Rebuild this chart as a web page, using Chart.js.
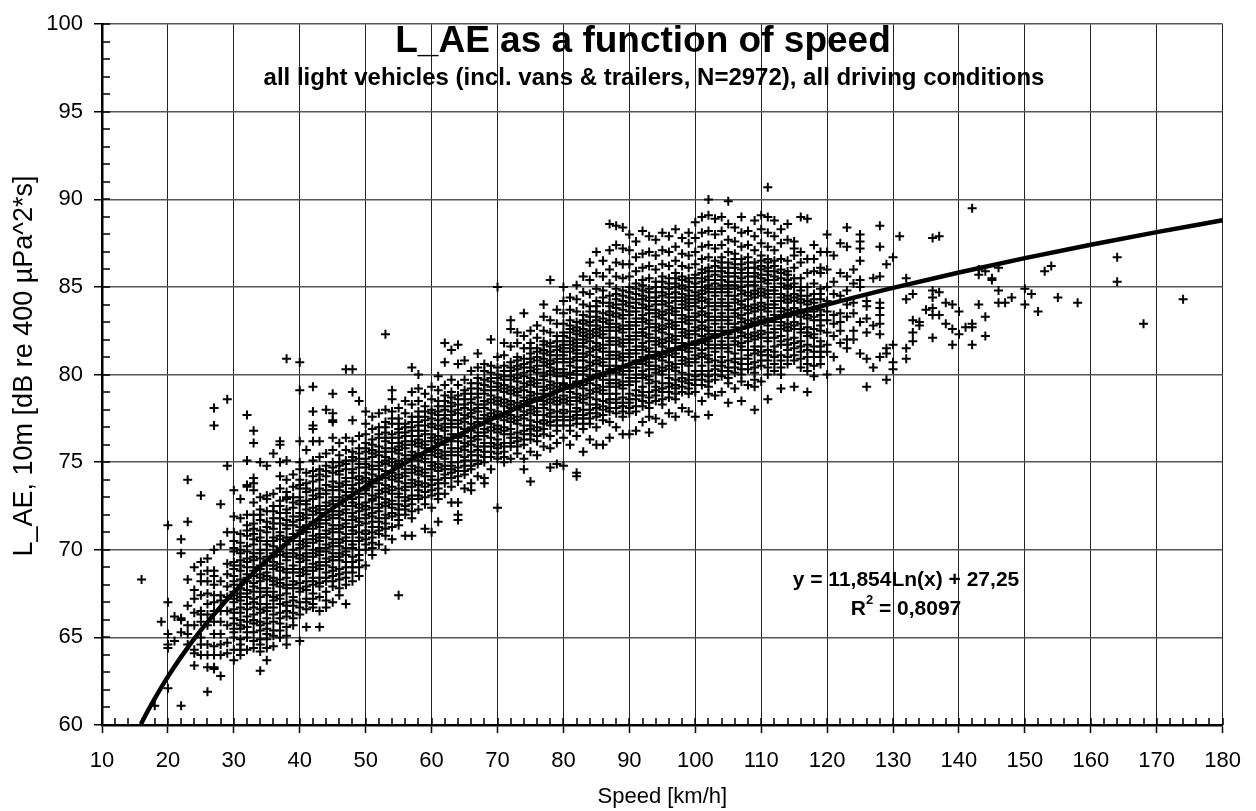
<!DOCTYPE html>
<html><head><meta charset="utf-8">
<script src="https://cdn.jsdelivr.net/npm/chart.js@4/dist/chart.umd.min.js"></script>
<style>html,body{margin:0;padding:0;background:#fff;}#wrap{width:1256px;height:811px;}</style>
</head><body><div id="wrap"><canvas id="c" width="1256" height="811"></canvas></div>
<script>
// ---- data: each row = [speed km/h, L_AE values at that speed...] ----
const band10s = [
 [16, 68.3],[18, 61.1],[19, 65.9],
 [20, 62.1, 64.4, 64.6, 65.2, 67.0, 71.4],
 [21, 64.8, 66.2],
 [22, 61.1, 65.3, 66.0, 66.1, 69.8, 70.6],
 [23, 64.6, 65.2, 65.7, 66.8, 68.3, 71.6, 74.0],
 [24, 63.4, 64.1, 64.3, 65.7, 66.4, 67.2, 67.7, 69.0],
 [25, 64.0, 64.6, 65.0, 65.9, 66.3, 66.5, 67.4, 68.2, 68.6, 69.3, 73.1],
 [26, 61.9, 63.3, 64.0, 64.6, 65.7, 66.3, 66.9, 67.5, 68.2, 68.8, 69.5],
 [27, 63.2, 63.3, 64.0, 64.5, 65.2, 65.9, 66.5, 67.0, 67.4, 68.0, 68.5, 68.8, 70.0, 77.1, 78.1],
 [28, 62.8, 64.0, 64.6, 65.2, 65.9, 66.5, 67.1, 67.4, 68.2, 70.3, 72.6],
 [29, 64.1, 64.7, 65.7, 66.5, 67.3, 67.9, 68.6, 69.2, 71.0, 74.8, 78.6]
];
const band30s = [
 [30, 63.7, 64.3, 65.0, 65.3, 65.8, 66.1, 66.6, 67.0, 67.2, 67.6, 68.0, 68.5, 68.9, 69.3, 69.9, 70.5, 71.0, 71.9, 73.4],
 [31, 64.0, 64.3, 64.9, 65.5, 66.0, 66.7, 67.1, 67.5, 67.8, 68.3, 68.8, 69.4, 69.8, 70.4, 71.8, 72.9],
 [32, 64.3, 65.0, 65.6, 66.2, 66.9, 67.3, 67.7, 68.2, 68.6, 69.0, 69.5, 70.2, 70.8, 71.4, 72.0, 73.6, 73.7, 75.1, 77.7],
 [33, 64.8, 65.3, 65.8, 66.3, 66.7, 67.2, 67.6, 68.1, 68.5, 69.0, 69.4, 69.8, 70.3, 70.9, 71.5, 72.0, 72.7, 73.4, 73.8, 74.1, 76.1, 76.8],
 [34, 63.1, 64.2, 64.9, 65.4, 65.9, 66.4, 66.9, 67.3, 67.8, 68.2, 68.6, 69.1, 69.5, 70.0, 70.5, 71.1, 71.7, 72.3, 73.0, 75.0],
 [35, 63.7, 64.4, 64.9, 65.5, 66.1, 66.5, 66.9, 67.4, 67.8, 68.3, 68.7, 69.1, 69.6, 70.0, 70.5, 71.0, 71.6, 72.2, 72.9, 73.1, 74.8],
 [36, 64.5, 65.4, 65.9, 66.7, 67.1, 67.6, 68.0, 68.4, 68.9, 69.3, 69.8, 70.2, 70.7, 71.2, 71.8, 72.5, 73.2, 75.5],
 [37, 65.0, 65.8, 66.4, 66.9, 67.4, 67.9, 68.3, 68.8, 69.2, 69.7, 70.1, 70.6, 71.0, 71.5, 72.1, 72.8, 73.5, 74.2, 75.0, 76.0, 76.2],
 [38, 64.6, 65.1, 65.6, 66.5, 67.0, 67.5, 68.0, 68.4, 68.9, 69.4, 69.8, 70.3, 70.7, 71.2, 71.7, 72.3, 72.9, 73.3, 74.0, 75.1, 80.9],
 [39, 65.7, 66.1, 66.8, 67.3, 67.8, 68.2, 68.7, 69.1, 69.6, 70.0, 70.5, 70.9, 71.4, 71.9, 72.4, 73.0, 73.6, 74.3]
];
const band40s = [
 [40, 64.8, 66.3, 67.0, 67.6, 68.1, 68.5, 68.9, 69.3, 69.7, 70.1, 70.5, 70.9, 71.3, 71.7, 72.1, 72.6, 73.0, 73.5, 74.0, 74.6, 75.0, 76.2, 79.1, 80.7],
 [41, 65.6, 66.6, 67.2, 67.7, 68.2, 68.6, 69.0, 69.4, 69.8, 70.2, 70.6, 71.0, 71.4, 71.8, 72.3, 72.8, 73.3, 73.8, 74.4, 75.7],
 [42, 66.7, 66.9, 67.5, 68.0, 68.4, 68.8, 69.2, 69.6, 70.0, 70.4, 70.8, 71.2, 71.6, 72.0, 72.4, 72.9, 73.4, 73.9, 74.5, 75.1, 76.2, 76.9, 77.1, 77.9, 79.3],
 [43, 65.6, 67.3, 67.9, 68.4, 68.9, 69.3, 69.7, 70.1, 70.5, 70.9, 71.3, 71.7, 72.1, 72.5, 73.0, 73.5, 74.0, 74.6, 75.3, 76.2],
 [44, 66.7, 67.6, 68.2, 68.7, 69.1, 69.5, 69.9, 70.3, 70.7, 71.1, 71.5, 71.9, 72.3, 72.7, 73.2, 73.7, 74.2, 74.8, 75.5, 78.0],
 [45, 67.0, 67.9, 68.5, 69.0, 69.4, 69.8, 70.2, 70.6, 71.0, 71.4, 71.8, 72.2, 72.6, 73.0, 73.4, 73.9, 74.4, 75.0, 75.7, 76.4, 77.3, 77.4, 77.8, 78.9],
 [46, 67.4, 68.3, 68.9, 69.4, 69.8, 70.2, 70.6, 71.0, 71.4, 71.8, 72.2, 72.6, 73.0, 73.4, 73.8, 74.3, 74.8, 75.4, 76.1],
 [47, 66.9, 68.0, 68.7, 69.3, 69.7, 70.1, 70.5, 70.9, 71.3, 71.7, 72.1, 72.5, 72.9, 73.3, 73.7, 74.1, 74.6, 75.1, 75.7, 76.4, 80.3],
 [48, 68.2, 69.0, 69.6, 70.1, 70.5, 70.9, 71.3, 71.7, 72.1, 72.5, 72.9, 73.3, 73.7, 74.1, 74.6, 75.1, 75.6, 76.2, 77.4, 79.0, 80.3],
 [49, 68.5, 69.4, 70.0, 70.5, 71.0, 71.4, 71.8, 72.2, 72.6, 73.0, 73.4, 73.8, 74.2, 74.7, 75.2, 75.8, 76.5, 78.5]
];
const band50s = [
 [50, 69.1, 70.0, 70.6, 71.1, 71.5, 72.0, 72.3, 72.7, 73.2, 73.5, 73.9, 74.4, 74.7, 75.2, 75.6, 76.1, 76.6, 77.2, 77.9],
 [51, 69.7, 70.4, 71.0, 71.6, 71.9, 72.4, 72.8, 73.1, 73.6, 74.0, 74.3, 74.8, 75.3, 75.7, 76.3, 76.9, 77.6],
 [52, 70.3, 70.9, 71.3, 71.8, 72.2, 72.6, 73.0, 73.4, 73.8, 74.2, 74.6, 75.0, 75.4, 75.9, 76.4, 77.0, 77.8],
 [53, 70.0, 70.8, 71.5, 72.0, 72.5, 72.9, 73.3, 73.7, 74.1, 74.5, 74.9, 75.3, 75.8, 76.2, 76.7, 77.3, 78.0, 82.3],
 [54, 70.6, 71.3, 71.9, 72.4, 72.8, 73.2, 73.6, 74.0, 74.4, 74.8, 75.2, 75.6, 76.1, 76.6, 77.2, 77.9, 78.6, 79.1],
 [55, 67.4, 71.4, 72.0, 72.6, 73.0, 73.5, 73.9, 74.3, 74.7, 75.1, 75.5, 75.9, 76.4, 76.9, 77.5, 78.1],
 [56, 70.8, 72.0, 72.5, 73.0, 73.4, 73.8, 74.2, 74.6, 75.0, 75.4, 75.8, 76.2, 76.7, 77.2, 77.8, 78.5],
 [57, 70.8, 71.8, 72.6, 73.1, 73.6, 74.0, 74.4, 74.8, 75.2, 75.6, 76.0, 76.5, 77.0, 77.6, 78.3, 79.0, 80.4],
 [58, 72.3, 72.9, 73.4, 73.9, 74.3, 74.7, 75.1, 75.5, 75.9, 76.3, 76.8, 77.3, 77.9, 78.5, 79.2, 80.0],
 [59, 71.2, 72.6, 73.3, 73.8, 74.2, 74.6, 75.0, 75.4, 75.8, 76.2, 76.6, 77.1, 77.6, 78.2, 78.9]
];
const band60s = [
 [60, 71.0, 72.4, 73.1, 73.7, 74.2, 74.6, 75.0, 75.4, 75.8, 76.2, 76.6, 77.0, 77.5, 78.0, 78.6, 79.3],
 [61, 71.6, 72.9, 73.5, 74.0, 74.5, 74.9, 75.3, 75.7, 76.1, 76.5, 76.9, 77.4, 77.9, 78.5, 79.1, 79.9],
 [62, 73.2, 73.8, 74.3, 74.8, 75.2, 75.6, 76.0, 76.4, 76.8, 77.2, 77.7, 78.2, 78.8, 79.4, 80.7, 81.8],
 [63, 72.7, 73.6, 74.1, 74.6, 75.0, 75.4, 75.8, 76.2, 76.6, 77.0, 77.4, 77.9, 78.4, 79.0, 79.7, 81.4],
 [64, 71.7, 72.0, 72.7, 73.9, 74.5, 75.0, 75.4, 75.8, 76.2, 76.6, 77.0, 77.4, 77.8, 78.3, 78.8, 79.4, 80.6, 81.7],
 [65, 73.5, 74.3, 74.8, 75.3, 75.7, 76.1, 76.5, 76.9, 77.3, 77.7, 78.1, 78.6, 79.1, 79.7, 80.8],
 [66, 73.4, 73.8, 74.6, 75.1, 75.6, 76.0, 76.4, 76.8, 77.2, 77.6, 78.0, 78.4, 78.9, 79.5, 80.2],
 [67, 74.2, 74.9, 75.4, 75.9, 76.3, 76.7, 77.1, 77.5, 77.9, 78.3, 78.7, 79.2, 79.8, 80.4, 81.2],
 [68, 73.8, 74.1, 75.0, 75.6, 76.1, 76.5, 76.9, 77.3, 77.7, 78.1, 78.5, 78.9, 79.4, 80.2, 80.6],
 [69, 74.6, 75.3, 75.9, 76.4, 76.8, 77.2, 77.6, 78.0, 78.4, 78.8, 79.3, 79.8, 80.5, 82.0]
];
const band70s = [
 [70, 72.4, 75.2, 75.8, 76.3, 76.7, 77.1, 77.5, 77.9, 78.3, 78.7, 79.1, 79.5, 80.0, 80.4, 81.0, 85.0],
 [71, 75.0, 75.6, 76.1, 76.6, 77.0, 77.4, 77.8, 78.2, 78.6, 79.0, 79.4, 79.9, 80.5, 81.1, 81.8],
 [72, 75.2, 75.9, 76.4, 76.9, 77.3, 77.7, 78.1, 78.5, 78.9, 79.3, 79.7, 80.2, 80.7, 81.6, 82.6, 83.1],
 [73, 75.5, 76.2, 76.7, 77.2, 77.6, 78.0, 78.4, 78.8, 79.2, 79.6, 80.0, 80.5, 81.0, 81.8, 82.4],
 [74, 74.6, 75.2, 76.0, 76.6, 77.1, 77.5, 77.9, 78.3, 78.7, 79.1, 79.5, 79.9, 80.4, 80.9, 81.5, 82.2, 83.5],
 [75, 73.9, 75.6, 76.3, 76.9, 77.4, 77.8, 78.2, 78.6, 79.0, 79.4, 79.8, 80.2, 80.7, 81.2, 81.8, 82.5],
 [76, 75.4, 76.2, 76.8, 77.3, 77.7, 78.1, 78.5, 78.9, 79.3, 79.7, 80.1, 80.5, 81.0, 81.5, 82.1, 82.8],
 [77, 75.9, 76.6, 77.2, 77.7, 78.1, 78.5, 78.9, 79.3, 79.7, 80.1, 80.5, 80.9, 81.4, 81.9, 82.5, 83.3, 84.0],
 [78, 74.7, 75.8, 76.5, 77.1, 77.6, 78.0, 78.4, 78.8, 79.2, 79.6, 80.0, 80.4, 80.8, 81.3, 81.8, 82.4, 83.1, 85.4],
 [79, 74.9, 76.1, 76.8, 77.4, 77.9, 78.3, 78.7, 79.1, 79.5, 79.9, 80.3, 80.7, 81.1, 81.6, 82.2, 82.9, 83.7]
];
const band80s = [
 [80, 74.8, 76.4, 77.1, 77.6, 78.0, 78.4, 78.8, 79.2, 79.5, 79.9, 80.3, 80.7, 81.1, 81.5, 81.9, 82.4, 82.9, 83.5, 84.2, 85.0],
 [81, 76.0, 76.8, 77.4, 77.9, 78.3, 78.7, 79.0, 79.4, 79.8, 80.1, 80.5, 80.9, 81.3, 81.7, 82.1, 82.6, 83.1, 83.7, 84.4],
 [82, 74.2, 74.4, 76.5, 77.2, 77.7, 78.1, 78.5, 78.9, 79.3, 79.6, 80.0, 80.4, 80.8, 81.2, 81.6, 82.0, 82.5, 83.0, 83.6, 84.3, 85.1],
 [83, 75.6, 76.9, 77.5, 78.0, 78.4, 78.8, 79.2, 79.6, 80.0, 80.4, 80.8, 81.2, 81.6, 82.0, 82.4, 82.9, 83.4, 84.0, 84.7, 85.6],
 [84, 76.3, 77.2, 77.8, 78.3, 78.7, 79.1, 79.5, 79.9, 80.3, 80.7, 81.1, 81.5, 81.9, 82.3, 82.8, 83.3, 83.9, 84.6, 85.4, 86.4],
 [85, 76.0, 77.0, 77.6, 78.1, 78.6, 79.0, 79.4, 79.8, 80.2, 80.6, 81.0, 81.4, 81.8, 82.2, 82.6, 83.1, 83.6, 84.2, 84.9, 85.8, 87.0],
 [86, 76.0, 77.4, 78.0, 78.5, 78.9, 79.3, 79.7, 80.1, 80.5, 80.9, 81.3, 81.7, 82.1, 82.5, 83.0, 83.5, 84.1, 84.8, 85.6, 86.5],
 [87, 76.4, 77.3, 77.9, 78.4, 78.9, 79.3, 79.7, 80.1, 80.5, 80.9, 81.3, 81.7, 82.1, 82.5, 82.9, 83.4, 83.9, 84.5, 85.2, 86.0, 87.1, 88.6],
 [88, 77.0, 77.8, 78.4, 78.9, 79.3, 79.7, 80.1, 80.5, 80.9, 81.3, 81.7, 82.1, 82.5, 82.9, 83.3, 83.8, 84.3, 84.9, 85.6, 86.4, 87.4, 88.5],
 [89, 76.6, 77.6, 78.2, 78.7, 79.2, 79.6, 80.0, 80.4, 80.8, 81.2, 81.6, 82.0, 82.4, 82.8, 83.2, 83.7, 84.2, 84.8, 85.5, 86.3, 87.2, 88.4]
];
const band90s = [
 [90, 76.6, 77.8, 78.4, 78.9, 79.4, 79.8, 80.2, 80.6, 81.0, 81.4, 81.8, 82.2, 82.6, 83.0, 83.4, 83.9, 84.4, 85.0, 85.6, 86.3, 87.1, 88.0],
 [91, 76.8, 77.9, 78.6, 79.1, 79.6, 80.0, 80.4, 80.8, 81.2, 81.6, 82.0, 82.4, 82.8, 83.2, 83.6, 84.1, 84.6, 85.2, 85.9, 86.7, 87.6],
 [92, 77.3, 78.2, 78.8, 79.3, 79.8, 80.2, 80.6, 81.0, 81.4, 81.8, 82.2, 82.6, 83.0, 83.4, 83.8, 84.3, 84.8, 85.4, 86.1, 86.9, 88.2],
 [93, 76.7, 77.6, 78.4, 79.0, 79.5, 79.9, 80.3, 80.7, 81.1, 81.5, 81.9, 82.3, 82.7, 83.1, 83.5, 83.9, 84.4, 84.9, 85.5, 86.2, 87.0, 87.9],
 [94, 77.5, 78.5, 79.1, 79.6, 80.1, 80.5, 80.9, 81.3, 81.7, 82.1, 82.5, 82.9, 83.3, 83.7, 84.2, 84.7, 85.3, 86.0, 86.8, 87.7],
 [95, 77.2, 78.3, 79.0, 79.5, 80.0, 80.4, 80.8, 81.2, 81.6, 82.0, 82.4, 82.8, 83.2, 83.6, 84.0, 84.5, 85.0, 85.6, 86.3, 87.1, 88.1],
 [96, 77.8, 78.7, 79.3, 79.8, 80.3, 80.7, 81.1, 81.5, 81.9, 82.3, 82.7, 83.1, 83.5, 83.9, 84.4, 84.9, 85.5, 86.2, 87.0, 87.9],
 [97, 77.6, 78.6, 79.2, 79.7, 80.2, 80.6, 81.0, 81.4, 81.8, 82.2, 82.6, 83.0, 83.4, 83.8, 84.2, 84.7, 85.2, 85.8, 86.5, 87.3, 88.3],
 [98, 78.1, 79.0, 79.6, 80.1, 80.6, 81.0, 81.4, 81.8, 82.2, 82.6, 83.0, 83.4, 83.8, 84.2, 84.6, 85.1, 85.6, 86.2, 86.9, 87.8],
 [99, 77.9, 78.9, 79.5, 80.0, 80.5, 80.9, 81.3, 81.7, 82.1, 82.5, 82.9, 83.3, 83.7, 84.1, 84.5, 85.0, 85.5, 86.1, 86.8, 87.5, 88.1]
];
const band100s = [
 [100, 77.6, 79.0, 79.7, 80.2, 80.7, 81.1, 81.5, 81.9, 82.3, 82.7, 83.1, 83.5, 83.9, 84.3, 84.7, 85.2, 85.7, 86.3, 87.0, 87.8, 88.7],
 [101, 78.5, 79.4, 80.0, 80.5, 81.0, 81.4, 81.8, 82.2, 82.6, 83.0, 83.4, 83.8, 84.2, 84.6, 85.0, 85.5, 86.0, 86.6, 87.3, 88.1, 89.0],
 [102, 77.7, 78.9, 79.6, 80.2, 80.7, 81.1, 81.5, 81.9, 82.3, 82.7, 83.1, 83.5, 83.9, 84.3, 84.7, 85.1, 85.6, 86.1, 86.7, 87.4, 88.2, 89.1, 90.0],
 [103, 78.8, 79.7, 80.3, 80.8, 81.3, 81.7, 82.1, 82.5, 82.9, 83.3, 83.7, 84.1, 84.5, 84.9, 85.4, 85.9, 86.5, 87.2, 88.0, 88.9],
 [104, 79.0, 79.9, 80.5, 81.0, 81.5, 81.9, 82.3, 82.7, 83.1, 83.5, 83.9, 84.3, 84.7, 85.1, 85.6, 86.1, 86.7, 87.4, 88.2, 89.0],
 [105, 78.4, 79.5, 80.2, 80.8, 81.3, 81.7, 82.1, 82.5, 82.9, 83.3, 83.7, 84.1, 84.5, 84.9, 85.3, 85.8, 86.4, 87.0, 87.7, 88.6, 89.9],
 [106, 79.2, 80.1, 80.7, 81.2, 81.7, 82.1, 82.5, 82.9, 83.3, 83.7, 84.1, 84.5, 84.9, 85.3, 85.8, 86.3, 86.9, 87.6, 88.4],
 [107, 78.5, 79.6, 80.3, 80.9, 81.4, 81.8, 82.2, 82.6, 83.0, 83.4, 83.8, 84.2, 84.6, 85.0, 85.5, 86.0, 86.6, 87.3, 88.1, 89.0],
 [108, 79.4, 80.3, 80.9, 81.4, 81.9, 82.3, 82.7, 83.1, 83.5, 83.9, 84.3, 84.7, 85.1, 85.6, 86.1, 86.7, 87.4, 88.2],
 [109, 78.0, 79.3, 80.1, 80.7, 81.2, 81.6, 82.0, 82.4, 82.8, 83.2, 83.6, 84.0, 84.4, 84.8, 85.3, 85.8, 86.4, 87.1, 87.9, 88.8]
];
const band110s = [
 [110, 79.6, 80.5, 81.1, 81.6, 82.1, 82.5, 82.9, 83.3, 83.7, 84.1, 84.5, 84.9, 85.3, 85.7, 86.2, 86.8, 87.5, 88.3, 89.1],
 [111, 78.6, 80.0, 80.8, 81.4, 81.9, 82.4, 82.8, 83.2, 83.6, 84.0, 84.4, 84.8, 85.2, 85.7, 86.1, 86.6, 87.3, 88.1, 89.0, 90.7],
 [112, 80.2, 81.0, 81.6, 82.1, 82.6, 83.0, 83.4, 83.8, 84.2, 84.6, 85.0, 85.4, 85.9, 86.5, 87.1, 87.9, 88.8],
 [113, 79.2, 80.4, 81.1, 81.7, 82.2, 82.6, 83.0, 83.4, 83.8, 84.2, 84.6, 85.0, 85.5, 86.0, 86.6, 87.5, 88.3],
 [114, 80.6, 81.4, 82.0, 82.5, 82.9, 83.3, 83.7, 84.1, 84.5, 84.9, 85.4, 85.9, 86.5, 87.7, 88.6],
 [115, 79.3, 80.8, 81.5, 82.1, 82.6, 83.0, 83.4, 83.8, 84.2, 84.6, 85.0, 85.5, 86.1, 86.8, 87.2, 87.6],
 [116, 80.4, 81.3, 81.9, 82.4, 82.9, 83.3, 83.7, 84.1, 84.5, 85.0, 85.5, 86.4, 87.0, 89.0],
 [117, 79.0, 80.2, 81.0, 81.7, 82.2, 82.7, 83.2, 83.6, 84.0, 84.5, 85.0, 85.8, 86.6, 88.9],
 [118, 79.9, 81.0, 81.6, 82.1, 82.6, 83.1, 83.6, 84.1, 84.6, 85.2, 85.9, 86.6, 87.4],
 [119, 80.6, 81.3, 81.9, 82.5, 83.1, 83.7, 84.3, 84.9, 85.8, 86.1, 87.0]
];
const band120s = [
 [120, 80.0, 81.3, 81.7, 82.4, 83.1, 83.6, 84.2, 85.0, 86.0, 87.0, 88.0],
 [121, 81.0, 82.2, 82.9, 83.4, 84.6, 85.3, 86.8],
 [122, 80.3, 81.8, 82.5, 83.0, 83.5, 84.5, 85.8, 87.5],
 [123, 81.5, 82.0, 83.3, 84.0, 84.8, 85.6, 87.3, 88.4],
 [124, 82.0, 82.5, 83.5, 84.1, 85.2, 86.0],
 [125, 81.2, 83.0, 85.0, 85.4, 86.5, 87.2, 87.6, 88.0],
 [126, 79.3, 80.9, 82.4, 83.2, 83.9, 84.2],
 [127, 80.4, 82.8, 85.5],
 [128, 81.0, 82.3, 82.9, 83.4, 83.8, 84.1, 85.6, 87.3, 88.5],
 [129, 79.7, 81.2, 81.5, 86.3]
];
const band130s = [
 [130, 80.3, 80.7, 81.7, 86.7],
 [131, 87.9],
 [132, 80.9, 81.5, 84.3, 85.5],
 [133, 81.9, 82.4, 83.1, 84.6],
 [134, 82.8, 83.0],
 [135, 83.7],
 [136, 82.1, 83.4, 83.8, 84.4, 84.8, 87.8],
 [137, 83.4, 84.7, 87.9],
 [138, 82.9, 84.1],
 [139, 81.7, 82.6, 84.0]
];
const band140plus = [
 [140, 82.3, 83.6],[141, 82.7],[142, 81.7, 82.7, 82.9, 89.5],[143, 84.0, 85.7, 86.0],
 [144, 82.2, 83.3, 85.9],[145, 85.4, 85.5],[146, 84.1, 84.8, 86.1],[147, 84.1],[148, 84.4],
 [150, 84.0, 84.9],[151, 84.6],[152, 83.6],[153, 85.9],[154, 86.2],[155, 84.4],[158, 84.1],
 [164, 85.3, 86.7],[168, 82.9],[174, 84.3]
];
// additional readings in the densest part of the cloud
const core30s = [
 [30, 65.5, 66.4, 67.4, 68.2, 69.1, 70.1],
 [31, 64.6, 65.7, 66.4, 67.3, 68.0, 69.1, 70.0, 70.9],
 [32, 65.3, 65.9, 66.6, 67.5, 68.4, 69.3, 69.9, 71.1],
 [33, 64.4, 66.0, 67.0, 67.9, 68.8, 69.6, 70.6, 71.2],
 [34, 64.6, 65.7, 66.6, 67.6, 68.4, 68.9, 69.8, 70.7, 72.0],
 [35, 65.2, 65.8, 66.7, 67.6, 68.5, 69.4, 70.3, 71.3],
 [36, 65.1, 66.3, 67.3, 68.2, 69.1, 69.6, 70.5, 71.5, 72.2],
 [37, 65.4, 66.1, 67.2, 68.1, 69.0, 69.9, 70.8, 71.8, 72.5],
 [38, 66.2, 66.8, 67.8, 68.7, 69.6, 70.5, 71.4, 72.1, 73.0],
 [39, 66.4, 67.1, 68.0, 68.9, 69.8, 70.7, 71.6, 72.7]
];
const core40s = [
 [40, 66.7, 67.8, 68.7, 69.5, 70.3, 71.1, 71.9, 72.8, 73.7],
 [41, 67.0, 67.9, 68.8, 69.6, 70.4, 71.2, 72.0, 72.6, 73.5],
 [42, 67.2, 68.2, 69.0, 69.8, 70.6, 71.4, 72.2, 73.1, 74.2],
 [43, 66.5, 68.1, 69.1, 69.9, 70.7, 71.5, 72.3, 73.2, 74.3],
 [44, 67.1, 68.4, 69.3, 70.1, 70.9, 71.7, 72.5, 73.4, 74.5],
 [45, 68.2, 68.8, 69.6, 70.4, 71.2, 72.0, 72.8, 73.6, 74.7],
 [46, 67.8, 68.6, 69.6, 70.4, 71.2, 72.0, 72.8, 73.6, 74.5, 75.0],
 [47, 68.4, 69.0, 69.9, 70.7, 71.5, 72.3, 73.1, 73.9, 74.9],
 [48, 68.7, 69.3, 70.3, 71.1, 71.9, 72.7, 73.5, 74.4, 75.3],
 [49, 69.0, 69.7, 70.7, 71.6, 72.4, 73.2, 74.0, 74.9, 75.5]
];
const core50s = [
 [50, 70.3, 70.9, 71.8, 72.5, 73.4, 74.1, 74.9, 75.8],
 [51, 70.1, 70.7, 71.3, 72.1, 72.9, 73.8, 74.6, 75.5, 76.0],
 [52, 71.1, 71.6, 72.4, 73.2, 74.0, 74.8, 75.6, 76.6],
 [53, 71.2, 71.8, 72.7, 73.5, 74.3, 75.1, 75.6, 76.4, 77.0],
 [54, 72.1, 72.6, 73.4, 74.2, 75.0, 75.8, 76.4, 77.5],
 [55, 71.7, 72.3, 73.2, 74.1, 74.9, 75.7, 76.1, 76.7, 77.2],
 [56, 72.3, 72.8, 73.6, 74.4, 75.2, 76.0, 76.5, 77.0],
 [57, 72.2, 72.9, 73.8, 74.6, 75.4, 76.2, 76.8, 77.3],
 [58, 73.1, 73.7, 74.5, 75.3, 76.1, 76.5, 77.1, 77.6],
 [59, 73.0, 73.6, 74.4, 75.2, 76.0, 76.8, 77.4, 77.9]
];
const core60s = [
 [60, 73.4, 74.0, 74.8, 75.6, 76.4, 77.2, 77.8],
 [61, 73.2, 73.8, 74.7, 75.5, 76.3, 77.1, 77.7, 78.2],
 [62, 74.1, 74.6, 75.4, 76.2, 77.0, 77.5, 78.0, 78.5],
 [63, 74.4, 74.8, 75.6, 76.4, 77.2, 77.7, 78.2, 78.7],
 [64, 74.2, 74.7, 75.6, 76.4, 77.2, 78.0, 78.6],
 [65, 74.5, 75.1, 75.9, 76.7, 77.5, 78.3, 78.9],
 [66, 74.8, 75.4, 76.2, 77.0, 77.8, 78.6, 79.2],
 [67, 75.1, 75.7, 76.5, 77.3, 78.1, 78.9, 79.5],
 [68, 75.3, 75.9, 76.7, 77.5, 78.3, 79.1, 79.7],
 [69, 75.6, 76.1, 77.0, 77.8, 78.6, 79.1, 79.6, 80.1]
];
const core70s = [
 [70, 75.5, 76.0, 76.9, 77.7, 78.5, 79.3, 79.8],
 [71, 75.3, 75.9, 76.8, 77.6, 78.4, 79.2, 79.7, 80.2],
 [72, 76.1, 76.6, 77.5, 78.3, 79.1, 79.9, 80.4],
 [73, 75.9, 76.4, 77.4, 78.2, 79.0, 79.8, 80.3, 80.8],
 [74, 76.3, 76.8, 77.7, 78.5, 79.3, 80.1, 80.6],
 [75, 76.6, 77.1, 78.0, 78.8, 79.6, 80.4, 80.9, 81.5],
 [76, 76.5, 77.0, 77.9, 78.7, 79.5, 80.3, 80.8, 81.3],
 [77, 76.9, 77.4, 78.3, 79.1, 79.9, 80.7, 81.2, 81.7],
 [78, 77.3, 77.8, 78.6, 79.4, 80.2, 80.6, 81.1, 81.6],
 [79, 77.1, 77.6, 78.5, 79.3, 80.1, 80.9, 81.4, 81.9]
];
const core80s = [
 [80, 77.4, 77.8, 78.6, 79.4, 80.1, 80.9, 81.3, 81.7, 82.2],
 [81, 77.1, 77.6, 78.5, 79.2, 80.0, 80.7, 81.5, 81.9, 82.4, 82.8],
 [82, 77.5, 77.9, 78.7, 79.5, 80.2, 81.0, 81.4, 81.8, 82.3, 82.7],
 [83, 77.2, 77.7, 78.6, 79.4, 80.2, 81.0, 81.8, 82.2, 82.6, 83.1],
 [84, 77.5, 78.0, 78.9, 79.7, 80.5, 81.3, 82.1, 82.5, 83.0, 83.6],
 [85, 77.8, 78.3, 79.2, 80.0, 80.8, 81.6, 82.4, 82.8, 83.3, 83.9],
 [86, 77.7, 78.2, 79.1, 79.9, 80.7, 81.5, 82.3, 82.7, 83.2, 84.4],
 [87, 78.1, 78.6, 79.5, 80.3, 81.1, 81.9, 82.7, 83.1, 83.6, 84.1],
 [88, 78.1, 78.6, 79.5, 80.3, 81.1, 81.9, 82.7, 83.5, 84.0, 84.6],
 [89, 77.9, 78.4, 79.4, 80.2, 81.0, 81.8, 82.6, 83.4, 84.0, 84.5]
];
const core90s = [
 [90, 78.1, 78.6, 79.6, 80.4, 81.2, 82.0, 82.8, 83.6, 84.1, 84.7],
 [91, 78.2, 78.8, 79.8, 80.6, 81.4, 82.2, 83.0, 83.8, 84.3, 84.9],
 [92, 78.5, 79.0, 80.0, 80.8, 81.6, 82.4, 83.2, 84.0, 84.5, 85.1],
 [93, 78.1, 78.7, 79.7, 80.5, 81.3, 82.1, 82.9, 83.7, 84.2, 84.7],
 [94, 78.8, 79.3, 80.3, 81.1, 81.9, 82.7, 83.5, 84.0, 84.4, 85.0],
 [95, 78.6, 79.2, 80.2, 81.0, 81.8, 82.6, 83.4, 84.2, 84.7, 85.3],
 [96, 79.0, 79.5, 80.5, 81.3, 82.1, 82.9, 83.7, 84.1, 84.6, 85.2],
 [97, 78.9, 79.4, 80.4, 81.2, 82.0, 82.8, 83.6, 84.4, 85.0, 85.5],
 [98, 79.3, 79.8, 80.8, 81.6, 82.4, 83.2, 84.0, 84.4, 84.9, 85.4],
 [99, 79.2, 79.7, 80.7, 81.5, 82.3, 83.1, 83.9, 84.3, 84.8, 85.3]
];
const core100s = [
 [100, 79.4, 79.9, 80.9, 81.7, 82.5, 83.3, 84.1, 84.5, 85.0, 85.5],
 [101, 79.7, 80.2, 81.2, 82.0, 82.8, 83.6, 84.4, 84.8, 85.3, 85.8],
 [102, 79.3, 79.9, 80.9, 81.7, 82.5, 83.3, 84.1, 84.9, 85.4, 85.9],
 [103, 80.0, 80.5, 81.5, 82.3, 83.1, 83.9, 84.7, 85.2, 85.7, 86.2],
 [104, 80.2, 80.7, 81.7, 82.5, 83.3, 84.1, 84.9, 85.4, 85.9, 86.4],
 [105, 79.8, 80.4, 81.5, 82.3, 83.1, 83.9, 84.7, 85.1, 85.6, 86.1],
 [106, 80.4, 80.9, 81.9, 82.7, 83.5, 84.3, 85.1, 85.6, 86.1, 86.6],
 [107, 80.0, 80.6, 81.6, 82.4, 83.2, 84.0, 84.8, 85.3, 85.8, 86.3],
 [108, 80.6, 81.1, 82.1, 82.9, 83.7, 84.5, 85.3, 85.8, 86.4],
 [109, 79.7, 80.4, 81.4, 82.2, 83.0, 83.8, 84.6, 85.1, 85.6, 86.1]
];
const core110s = [
 [110, 80.8, 81.3, 82.3, 83.1, 83.9, 84.7, 85.5, 86.0, 86.5],
 [111, 80.4, 81.1, 82.1, 83.0, 83.8, 84.6, 85.4, 85.9, 86.4],
 [112, 80.6, 81.3, 82.4, 83.2, 84.0, 84.8, 85.6, 86.2],
 [113, 80.0, 80.8, 81.9, 82.8, 83.6, 84.4, 85.2, 85.8],
 [114, 81.0, 81.7, 82.7, 83.5, 84.3, 85.1, 85.7],
 [115, 81.1, 81.8, 82.8, 83.6, 84.4, 85.2],
 [116, 80.9, 81.6, 82.6, 83.5, 84.3, 84.8],
 [117, 80.6, 81.4, 82.4, 83.4, 84.2],
 [118, 80.5, 81.3, 82.3, 83.3, 84.3],
 [119, 81.0, 81.6, 82.8, 83.4, 84.6]
];
// trend line y = 11,854 Ln(x) + 27,25
const trendSpeeds = [15.9, 17, 18, 20, 22, 25, 28, 30, 35, 40, 45, 50, 55, 60, 70, 80, 90, 100, 110, 120, 130, 140, 150, 160, 170, 180];
const trendLevels = [60.04, 60.84, 61.51, 62.76, 63.89, 65.41, 66.75, 67.57, 69.40, 70.98, 72.37, 73.62, 74.75, 75.78, 77.61, 79.19, 80.59, 81.84, 82.97, 84.00, 84.95, 85.83, 86.65, 87.41, 88.13, 88.81];
const xTickValues = [10,20,30,40,50,60,70,80,90,100,110,120,130,140,150,160,170,180];
const yTickValues = [60,65,70,75,80,85,90,95,100];
const chartTitle = 'L_AE as a function of speed';
const chartSubtitle = 'all light vehicles (incl. vans & trailers, N=2972), all driving conditions';
const xTitle = 'Speed [km/h]';
const yTitle = 'L_AE, 10m [dB re 400 µPa^2*s]';
const eqLine = 'y = 11,854Ln(x) + 27,25';
const r2Value = '0,8097';

const FONT = '"Liberation Sans", Arial, Helvetica, sans-serif';
const allBands = [band10s, band30s, band40s, band50s, band60s, band70s, band80s, band90s, band100s, band110s, band120s, band130s, band140plus,
  core30s, core40s, core50s, core60s, core70s, core80s, core90s, core100s, core110s];
const points = [];
allBands.forEach(b => b.forEach(row => { for (let i = 1; i < row.length; i++) points.push({x: row[0], y: row[i]}); }));
const trend = trendSpeeds.map((s, i) => ({x: s, y: trendLevels[i]}));

const decor = {
  id: 'decor',
  afterDraw(chart) {
    const {ctx, chartArea: a, scales: {x, y}} = chart;
    ctx.save();
    // minor ticks inside
    ctx.strokeStyle = '#000'; ctx.lineWidth = 1.5; ctx.beginPath();
    for (let v = y.min; v <= y.max; v += 1) { const py = Math.round(y.getPixelForValue(v)); ctx.moveTo(a.left, py); ctx.lineTo(a.left + 8, py); }
    for (let v = x.min; v <= x.max; v += 2) { const px = Math.round(x.getPixelForValue(v)); ctx.moveTo(px, a.bottom); ctx.lineTo(px, a.bottom - 7); }
    ctx.stroke();
    ctx.fillStyle = '#000'; ctx.textAlign = 'center'; ctx.textBaseline = 'alphabetic';
    ctx.font = 'bold 37px ' + FONT; ctx.fillText(chartTitle, 643, 52);
    ctx.font = 'bold 24px ' + FONT; ctx.fillText(chartSubtitle, 654, 85);
    ctx.font = '22px ' + FONT; ctx.fillText(xTitle, (a.left + a.right) / 2, 803);
    ctx.save(); ctx.translate(32, 366); ctx.rotate(-Math.PI / 2); ctx.font = '27px ' + FONT; ctx.fillText(yTitle, 0, 0); ctx.restore();
    // trendline label
    ctx.font = 'bold 21px ' + FONT; ctx.fillText(eqLine, 906, 586);
    const p1 = 'R', p3 = ' = ' + r2Value;
    const w1 = ctx.measureText(p1).width, w3 = ctx.measureText(p3).width;
    ctx.font = 'bold 13px ' + FONT; const w2 = ctx.measureText('2').width;
    let sx = 906 - (w1 + w2 + w3) / 2;
    ctx.textAlign = 'left';
    ctx.font = 'bold 21px ' + FONT; ctx.fillText(p1, sx, 615);
    ctx.font = 'bold 13px ' + FONT; ctx.fillText('2', sx + w1, 604);
    ctx.font = 'bold 21px ' + FONT; ctx.fillText(p3, sx + w1 + w2, 615);
    ctx.restore();
  }
};

new Chart(document.getElementById('c'), {
  type: 'scatter',
  data: { datasets: [
    { data: trend, showLine: true, borderColor: '#000', borderWidth: 4.5, pointRadius: 0, cubicInterpolationMode: 'monotone', order: 0 },
    { data: points, pointStyle: 'cross', pointRadius: 4.5, pointBorderColor: '#000', pointBackgroundColor: '#000', pointBorderWidth: 2, borderColor: '#000', order: 1 }
  ]},
  options: {
    responsive: false, animation: false, devicePixelRatio: 1,
    layout: { padding: { top: 18, right: 31, left: 0, bottom: 0 } },
    plugins: { legend: { display: false }, tooltip: { enabled: false }, title: { display: false } },
    scales: {
      x: {
        type: 'linear', min: 10, max: 180,
        afterBuildTicks: s => { s.ticks = xTickValues.map(v => ({value: v})); },
        afterFit: s => { s.height = 86; },
        ticks: { font: { family: FONT, size: 22 }, color: '#000', padding: 15, maxRotation: 0, autoSkip: false },
        grid: { color: '#222', lineWidth: 1, tickLength: 8, tickColor: '#000', tickWidth: 1.5 },
        border: { display: true, color: '#000', width: 2.5 }
      },
      y: {
        min: 60, max: 100,
        afterBuildTicks: s => { s.ticks = yTickValues.map(v => ({value: v})); },
        afterFit: s => { s.width = 102; },
        ticks: { font: { family: FONT, size: 22 }, color: '#000', padding: 11 },
        grid: { color: '#555', lineWidth: 1.5, tickLength: 8, tickColor: '#000', tickWidth: 1.5 },
        border: { display: true, color: '#000', width: 2.5 }
      }
    }
  },
  plugins: [decor]
});
</script>
</body></html>
